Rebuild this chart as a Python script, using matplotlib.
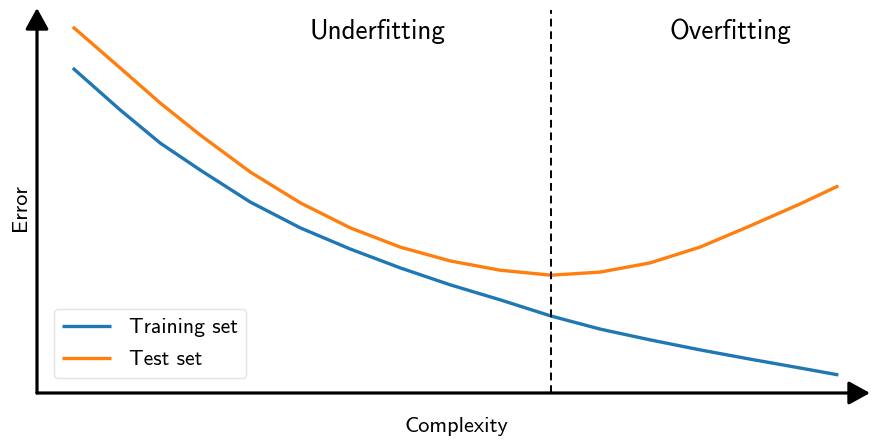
import matplotlib
matplotlib.use("Agg")
import matplotlib.pyplot as plt

plt.rcParams['font.family'] = ['cmss10', 'DejaVu Sans']

# Complexity values
complexity = [0.43, 1.00, 1.48, 1.96, 2.56, 3.16, 3.76, 4.36, 4.96, 5.56,
              6.17, 6.76, 7.36, 7.96, 8.56, 9.16, 9.62]
train_error = [8.44, 7.35, 6.49, 5.79, 4.96, 4.29, 3.74, 3.25, 2.81, 2.42,
               2.00, 1.66, 1.38, 1.12, 0.88, 0.65, 0.47]
test_error = [9.51, 8.44, 7.53, 6.70, 5.74, 4.94, 4.29, 3.79, 3.43, 3.19,
              3.06, 3.14, 3.38, 3.79, 4.34, 4.91, 5.38]
split_x = 6.17
series_labels = ["Training set", "Test set"]
region_labels = ["Underfitting", "Overfitting"]
x_label = "Complexity"
y_label = "Error"

W, H = 871, 440
fig = plt.figure(figsize=(W / 100, H / 100), dpi=100)
ax = fig.add_axes([37 / W, (H - 393) / H, (870 - 37) / W, (393 - 8) / H])
ax.set_xlim(0, 10)
ax.set_ylim(0, 10)
for s in ax.spines.values():
    s.set_visible(False)
ax.set_xticks([])
ax.set_yticks([])

arrow_kw = dict(arrowstyle='-|>,head_length=0.4,head_width=0.22', lw=2.3,
                color='black', mutation_scale=32, shrinkA=0, shrinkB=0)
ax.annotate('', xy=(1, 0), xytext=(0, 0), xycoords='axes fraction',
            textcoords='axes fraction', arrowprops=arrow_kw, annotation_clip=False)
ax.annotate('', xy=(0, 1), xytext=(0, 0), xycoords='axes fraction',
            textcoords='axes fraction', arrowprops=arrow_kw, annotation_clip=False)

ax.plot(complexity, train_error, color='#1f77b4', lw=2.4, label=series_labels[0],
        solid_capstyle='butt', solid_joinstyle='round')
ax.plot(complexity, test_error, color='#ff7f0e', lw=2.4, label=series_labels[1],
        solid_capstyle='butt', solid_joinstyle='round')
ax.plot([split_x, split_x], [0, 9.95], color='black', lw=1.4, ls=(0, (4, 2.5)))

ax.text(4.09, 9.4, region_labels[0], ha='center', va='center', fontsize=19.5)
ax.text(8.32, 9.4, region_labels[1], ha='center', va='center', fontsize=19.5)

fig.text(456 / W, 1 - 426 / H, x_label, ha='center', va='center', fontsize=16)
fig.text(20 / W, 1 - 208 / H, y_label, ha='center', va='center', fontsize=16,
         rotation=90)

leg = ax.legend(loc='lower left', bbox_to_anchor=(0.02, 0.039), borderaxespad=0,
                fontsize=15.6, handlelength=2.26, handletextpad=0.8,
                labelspacing=0.6, frameon=True, fancybox=True)
leg.get_frame().set_edgecolor('#dddddd')
leg.get_frame().set_linewidth(1.0)

fig.savefig('out.png', dpi=100)
